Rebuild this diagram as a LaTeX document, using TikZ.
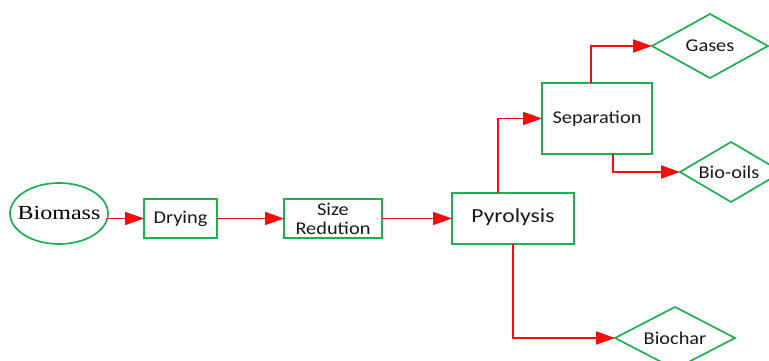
\documentclass[tikz,border=0pt]{standalone}
\usepackage{fontspec}
\setmainfont{Carlito}
\newfontfamily\serifface{Liberation Serif}
\usetikzlibrary{arrows.meta,shapes.geometric}
\definecolor{boxgreen}{RGB}{30,175,80}
\definecolor{flowred}{RGB}{250,10,10}
% horizontally widened lettering
\newcommand\widetext[2][1.13]{\scalebox{#1}[1]{#2}}
\begin{document}
\begin{tikzpicture}[x=1pt,y=-1pt,
  every node/.style={inner sep=0pt, outer sep=0pt, text=black!90},
  stage/.style={draw=boxgreen, line width=1.9pt, rectangle, font=\fontsize{18}{20}\selectfont, align=center},
  product/.style={draw=boxgreen, line width=1.7pt, diamond},
  caption/.style={font=\fontsize{18}{20}\selectfont},
  flow/.style={draw=flowred, line width=1.9pt, -{Triangle[length=19pt,width=13pt]}}
]
\useasboundingbox (0,0) rectangle (769,361);

% feedstock
\node[draw=boxgreen, line width=1.7pt, ellipse, minimum width=98pt, minimum height=61pt] (biomass) at (59,213.5) {};
\node[font=\serifface\fontsize{20}{22}\selectfont, text=black] (biomasstext) at ([yshift=1pt]biomass.center) {\widetext[1.2]{Biomass}};

% process stages
\node[stage, minimum width=73pt, minimum height=39pt] (drying) at (180.5,218.5) {\widetext{Drying}};
\node[stage, minimum width=98pt, minimum height=39pt] (size) at (333,218.5) {\widetext{Size}\\[-1pt]\widetext{Redution}};
\node[stage, minimum width=122pt, minimum height=51pt, font=\fontsize{20}{22}\selectfont] (pyro) at (513,218.5) {\raisebox{5pt}{\widetext[1.18]{Pyrolysis}}};
\node[stage, minimum width=110pt, minimum height=71pt] (sep) at (597,118.5) {\widetext{Separation}};

% products
\node[product, minimum width=116pt, minimum height=64pt] (gases) at (710,46) {};
\node[caption] (gasestext) at (gases.center) {\widetext{Gases}};
\node[product, minimum width=102pt, minimum height=60pt] (oils) at (731,172) {};
\node[caption] (oilstext) at ([xshift=-2pt]oils.center) {\widetext{Bio-oils}};
\node[product, minimum width=120pt, minimum height=62pt] (char) at (675,338) {};
\node[caption] (chartext) at (char.center) {\widetext{Biochar}};

% flow lines
\draw[flow] (biomass.east |- drying.west) -- (drying.west);
\draw[flow] (drying.east) -- (size.west);
\draw[flow] (size.east) -- (pyro.west);
\draw[flow] ([xshift=-15pt]pyro.north) |- (sep.west);
\draw[flow] ([xshift=-6pt]sep.north) |- (gases.west);
\draw[flow] ([xshift=16pt]sep.south) |- (oils.west);
\draw[flow] (pyro.south) |- (char.west);
\end{tikzpicture}
\end{document}
